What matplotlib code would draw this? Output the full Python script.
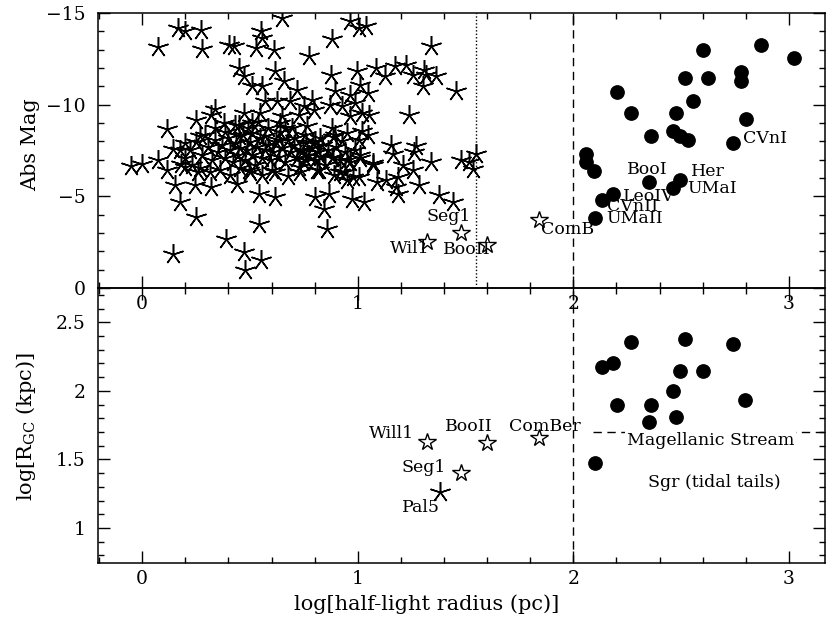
import matplotlib
matplotlib.use('Agg')
import matplotlib.pyplot as plt
from matplotlib.ticker import MultipleLocator, FuncFormatter

plt.rcParams['font.family'] = ['DejaVu Serif']
plt.rcParams['mathtext.fontset'] = 'dejavuserif'

# --- globular clusters (asterisks), log r_h [pc] vs Abs Mag ---
gc_logr = [0.074, 0.167, 0.201, 0.275, 0.278, 0.402, 0.337, 0.252, 0.321, 0.380, 0.113, 0.201, 0.267,
           0.649, 0.553, 0.556, 0.529, 0.611, 0.425, 0.776, 0.881, 0.966, 1.005, 0.618, 0.448, 0.471,
           0.510, 0.556, 0.657, 0.719, 0.878, 0.997, 1.012, 0.896, 0.966, 0.572, 0.626, 0.688, 0.788,
           0.750, 0.796, 0.873, 0.927, 0.989, 0.471, 0.548, 0.649, 0.726, 0.966, 1.020, 0.448, 0.510,
           0.641, 0.664, 0.765, 0.881, 0.950, 1.020, 0.448, 0.510, 0.572, 0.634, 0.711, 0.803, 0.927,
           1.005,
           1.038, 1.340, 1.085, 1.128, 1.174, 1.224, 1.255, 1.309, 1.317, 1.301, 1.363, 1.456, 1.046,
           1.051, 1.239, 1.046, 1.154, 1.270,
           -0.050, -0.003, 0.074, 0.144, 0.113, 0.152, 0.175, 0.252, 0.391, 0.144, 0.198, 0.244, 0.321,
           0.260, 0.182,
           0.440, 0.541, 0.618, 0.541, 0.803, 0.866, 0.842, 0.858, 0.974, 1.028, 0.950, 1.005, 0.943,
           0.471, 0.553, 0.476, 0.603, 0.495, 0.726, 0.819, 0.889,
           1.070, 1.162, 1.262, 1.340, 1.209, 1.255, 1.131, 1.185, 1.178, 1.185, 1.286, 1.378, 1.443,
           1.479, 1.517, 1.548, 1.533, 1.088,
           0.761, 0.825, 0.887, 0.949, 1.011, 1.072, 0.810, 0.918, 0.980, 0.748, 0.794, 0.887,
           0.223, 0.250, 0.278, 0.306, 0.325, 0.338, 0.352, 0.371, 0.385, 0.399, 0.408, 0.422, 0.436,
           0.445, 0.454, 0.468, 0.478, 0.487, 0.501, 0.510, 0.524, 0.533, 0.547, 0.556, 0.570, 0.584,
           0.593, 0.607, 0.621, 0.635, 0.649, 0.663, 0.677, 0.691, 0.705, 0.719, 0.732, 0.746, 0.760,
           0.774, 0.788, 0.802, 0.816, 0.834, 0.848, 0.862, 0.881, 0.899, 0.918, 0.941, 0.964, 0.987,
           1.011, 0.269, 0.315, 0.362, 0.408, 0.454, 0.501, 0.556, 0.617, 0.677, 0.732, 0.338, 0.385,
           0.431, 0.491, 0.538, 0.584, 0.640, 0.695, 0.756, 0.199, 0.232, 0.292, 0.176, 0.825, 0.895]
gc_mag = [-13.15, -14.18, -14.00, -14.09, -13.04, -13.27, -9.77, -9.18, -9.45, -9.00, -8.67, -7.91, -8.28,
          -14.73, -14.00, -13.64, -13.09, -13.00, -13.19, -12.67, -13.58, -14.55, -14.18, -11.82, -12.00, -11.55,
          -11.00, -11.00, -11.28, -10.82, -11.64, -11.82, -11.09, -10.73, -10.55, -10.19, -10.19, -10.19, -10.27,
          -9.91, -9.73, -10.00, -9.91, -10.09, -9.55, -9.55, -9.37, -9.45, -9.37, -9.55, -8.91, -9.00,
          -9.00, -8.73, -8.82, -8.73, -8.46, -8.55, -8.28, -8.46, -8.28, -8.09, -8.18, -8.00, -8.00,
          -8.09,
          -14.28, -13.19, -12.00, -11.55, -12.09, -12.18, -11.64, -11.91, -11.64, -11.00, -11.55, -10.73, -10.64,
          -9.45, -9.45, -8.36, -7.82, -7.73,
          -6.64, -6.75, -7.00, -7.60, -6.42, -5.60, -4.69, -3.87, -2.69, -1.87, -6.60, -5.60, -5.51,
          -6.33, -6.78,
          -5.69, -5.14, -4.96, -3.48, -4.96, -5.14, -4.33, -3.24, -4.87, -4.69, -5.88, -6.06, -6.33,
          -1.96, -1.51, -0.97, -6.42, -6.42, -6.60, -6.42, -6.15,
          -6.69, -7.33, -7.42, -6.87, -6.69, -6.42, -5.88, -6.06, -5.51, -5.14, -5.60, -5.06, -4.69,
          -6.97, -6.87, -7.33, -6.51, -5.80,
          -6.98, -7.16, -7.16, -6.98, -7.26, -6.80, -6.44, -6.34, -6.07, -7.53, -7.89, -8.25,
          -7.53, -7.97, -7.26, -7.69, -6.98, -8.07, -7.42, -7.80, -7.09, -8.18, -7.53, -6.87, -7.91,
          -7.26, -7.64, -8.35, -6.98, -7.53, -7.97, -7.26, -6.71, -7.69, -8.18, -7.09, -7.53, -7.80,
          -6.98, -7.42, -7.97, -7.15, -7.64, -6.87, -8.07, -7.42, -7.80, -7.09, -7.53, -6.87, -7.91,
          -7.26, -7.64, -6.98, -7.42, -7.80, -6.71, -7.53, -7.09, -7.69, -6.98, -7.42, -6.87, -7.53,
          -7.09, -6.55, -6.33, -6.44, -6.16, -6.55, -6.33, -6.16, -6.33, -6.11, -6.33, -8.73, -8.51,
          -8.89, -8.73, -9.06, -8.73, -8.51, -8.73, -8.35, -7.09, -6.71, -8.35, -7.53, -8.18, -8.35]

# --- dwarf galaxies (filled circles), top panel ---
dw_logr = [2.870, 3.024, 2.602, 2.517, 2.623, 2.777, 2.777, 2.204, 2.267, 2.556, 2.476, 2.799, 2.360,
           2.460, 2.494, 2.533, 2.741, 2.058, 2.058, 2.097, 2.350, 2.494, 2.460, 2.182, 2.131, 2.100]
dw_mag = [-13.26, -12.56, -12.98, -11.47, -11.47, -11.80, -11.29, -10.68, -9.56, -10.20, -9.56, -9.20, -8.29,
          -8.57, -8.29, -8.07, -7.89, -7.31, -6.89, -6.38, -5.80, -5.89, -5.47, -5.11, -4.80, -3.80]

# --- ambiguous objects (open stars), top panel ---
amb_logr = [1.840, 1.478, 1.320, 1.601]
amb_mag = [-3.71, -3.02, -2.53, -2.35]

top_labels = ['CVnI', 'BooI', 'Her', 'UMaI', 'LeoIV', 'CVnII', 'UMaII', 'ComB', 'Seg1', 'Wil1', 'BooII']
top_lab_x = [2.788, 2.247, 2.545, 2.528, 2.229, 2.154, 2.151, 1.848, 1.317, 1.147, 1.397]
top_lab_y = [-8.17, -6.44, -6.33, -5.44, -4.98, -4.44, -3.80, -3.20, -3.89, -2.17, -2.11]

# --- bottom panel: log R_GC ---
dw_logr_b = [2.267, 2.517, 2.741, 2.134, 2.182, 2.494, 2.599, 2.460, 2.204, 2.360, 2.797, 2.352, 2.474, 2.100]
dw_rgc = [2.357, 2.376, 2.340, 2.175, 2.200, 2.144, 2.144, 2.000, 1.900, 1.900, 1.930, 1.775, 1.810, 1.477]

amb_logr_b = [1.32, 1.60, 1.84, 1.48]
amb_rgc = [1.63, 1.62, 1.66, 1.40]
pal5_logr = [1.38]
pal5_rgc = [1.26]

bot_labels = ['Will1', 'BooII', 'ComBer', 'Seg1', 'Pal5', 'Sgr (tidal tails)']
bot_lab_x = [1.052, 1.405, 1.701, 1.201, 1.205, 2.346]
bot_lab_y = [1.69, 1.74, 1.74, 1.44, 1.15, 1.335]

magstream_rgc = 1.70
magstream_start = 2.09
rh_cut = 1.547
rh_split = 2.0

fig = plt.figure(figsize=(8.26, 6.23), dpi=100)
ax1 = fig.add_axes([0.1186, 0.5377, 0.8799, 0.4414])
ax2 = fig.add_axes([0.1186, 0.0963, 0.8799, 0.4414])
ax2.patch.set_visible(False)

xlim = (-0.205, 3.166)
asterisk = (5, 2, 0)

# top panel
ax1.plot(gc_logr, gc_mag, ls='none', marker=asterisk, ms=15, mew=1.1, color='black')
ax1.plot(dw_logr, dw_mag, ls='none', marker='o', ms=9.6, color='black')
ax1.plot(amb_logr, amb_mag, ls='none', marker='*', ms=13, mfc='white', mec='black', mew=1.0)
ax1.axvline(rh_cut, color='black', lw=1.0, ls=(0, (1, 1.5)))
ax1.axvline(rh_split, color='black', lw=1.0, ls=(0, (6, 4)))
for t, x, y in zip(top_labels, top_lab_x, top_lab_y):
    ax1.text(x, y, t, fontsize=12.5, ha='left', va='center')
ax1.set_xlim(xlim)
ax1.set_ylim(0, -15)
ax1.yaxis.set_major_locator(MultipleLocator(5))
ax1.yaxis.set_minor_locator(MultipleLocator(1))
ax1.set_ylabel('Abs Mag', fontsize=15)
ax1.yaxis.set_label_coords(-0.079, 0.52)

# bottom panel
ax2.plot(dw_logr_b, dw_rgc, ls='none', marker='o', ms=9.6, color='black')
ax2.plot(amb_logr_b, amb_rgc, ls='none', marker='*', ms=13, mfc='white', mec='black', mew=1.0)
ax2.plot(pal5_logr, pal5_rgc, ls='none', marker=asterisk, ms=15, mew=1.1, color='black')
ax2.axvline(rh_split, color='black', lw=1.0, ls=(0, (6, 4)))
ax2.plot([magstream_start, xlim[1]], [magstream_rgc, magstream_rgc], color='black', lw=1.0,
         ls=(0, (6, 4)), zorder=1)
ax2.text(2.248, 1.64, 'Magellanic Stream', fontsize=12.5, ha='left', va='center', zorder=3,
         bbox=dict(facecolor='white', edgecolor='none', pad=1.5))
for t, x, y in zip(bot_labels, bot_lab_x, bot_lab_y):
    ax2.text(x, y, t, fontsize=12.5, ha='left', va='center')
ax2.set_xlim(xlim)
ax2.set_ylim(0.745, 2.75)
ax2.yaxis.set_major_locator(MultipleLocator(0.5))
ax2.yaxis.set_minor_locator(MultipleLocator(0.1))
ax2.set_ylabel(r'log[R$_{\rm GC}$ (kpc)]', fontsize=15)
ax2.yaxis.set_label_coords(-0.082, 0.495)
ax2.set_xlabel('log[half-light radius (pc)]', fontsize=15)
ax2.xaxis.set_label_coords(0.452, -0.113)

fmt = FuncFormatter(lambda v, pos: ('%g' % v).replace('-', '\u2212'))
for ax in (ax1, ax2):
    ax.xaxis.set_major_locator(MultipleLocator(1))
    ax.xaxis.set_minor_locator(MultipleLocator(0.2))
    ax.xaxis.set_major_formatter(fmt)
    ax.yaxis.set_major_formatter(fmt)
    ax.tick_params(which='both', direction='in', top=True, right=True, labelsize=13.5, width=1.0)
    ax.tick_params(which='major', length=8.5)
    ax.tick_params(which='minor', length=4.5)
    ax.tick_params(axis='y', pad=9)
    ax.tick_params(axis='x', pad=5)
    for s in ax.spines.values():
        s.set_linewidth(1.1)

fig.savefig('out.png', dpi=100)
